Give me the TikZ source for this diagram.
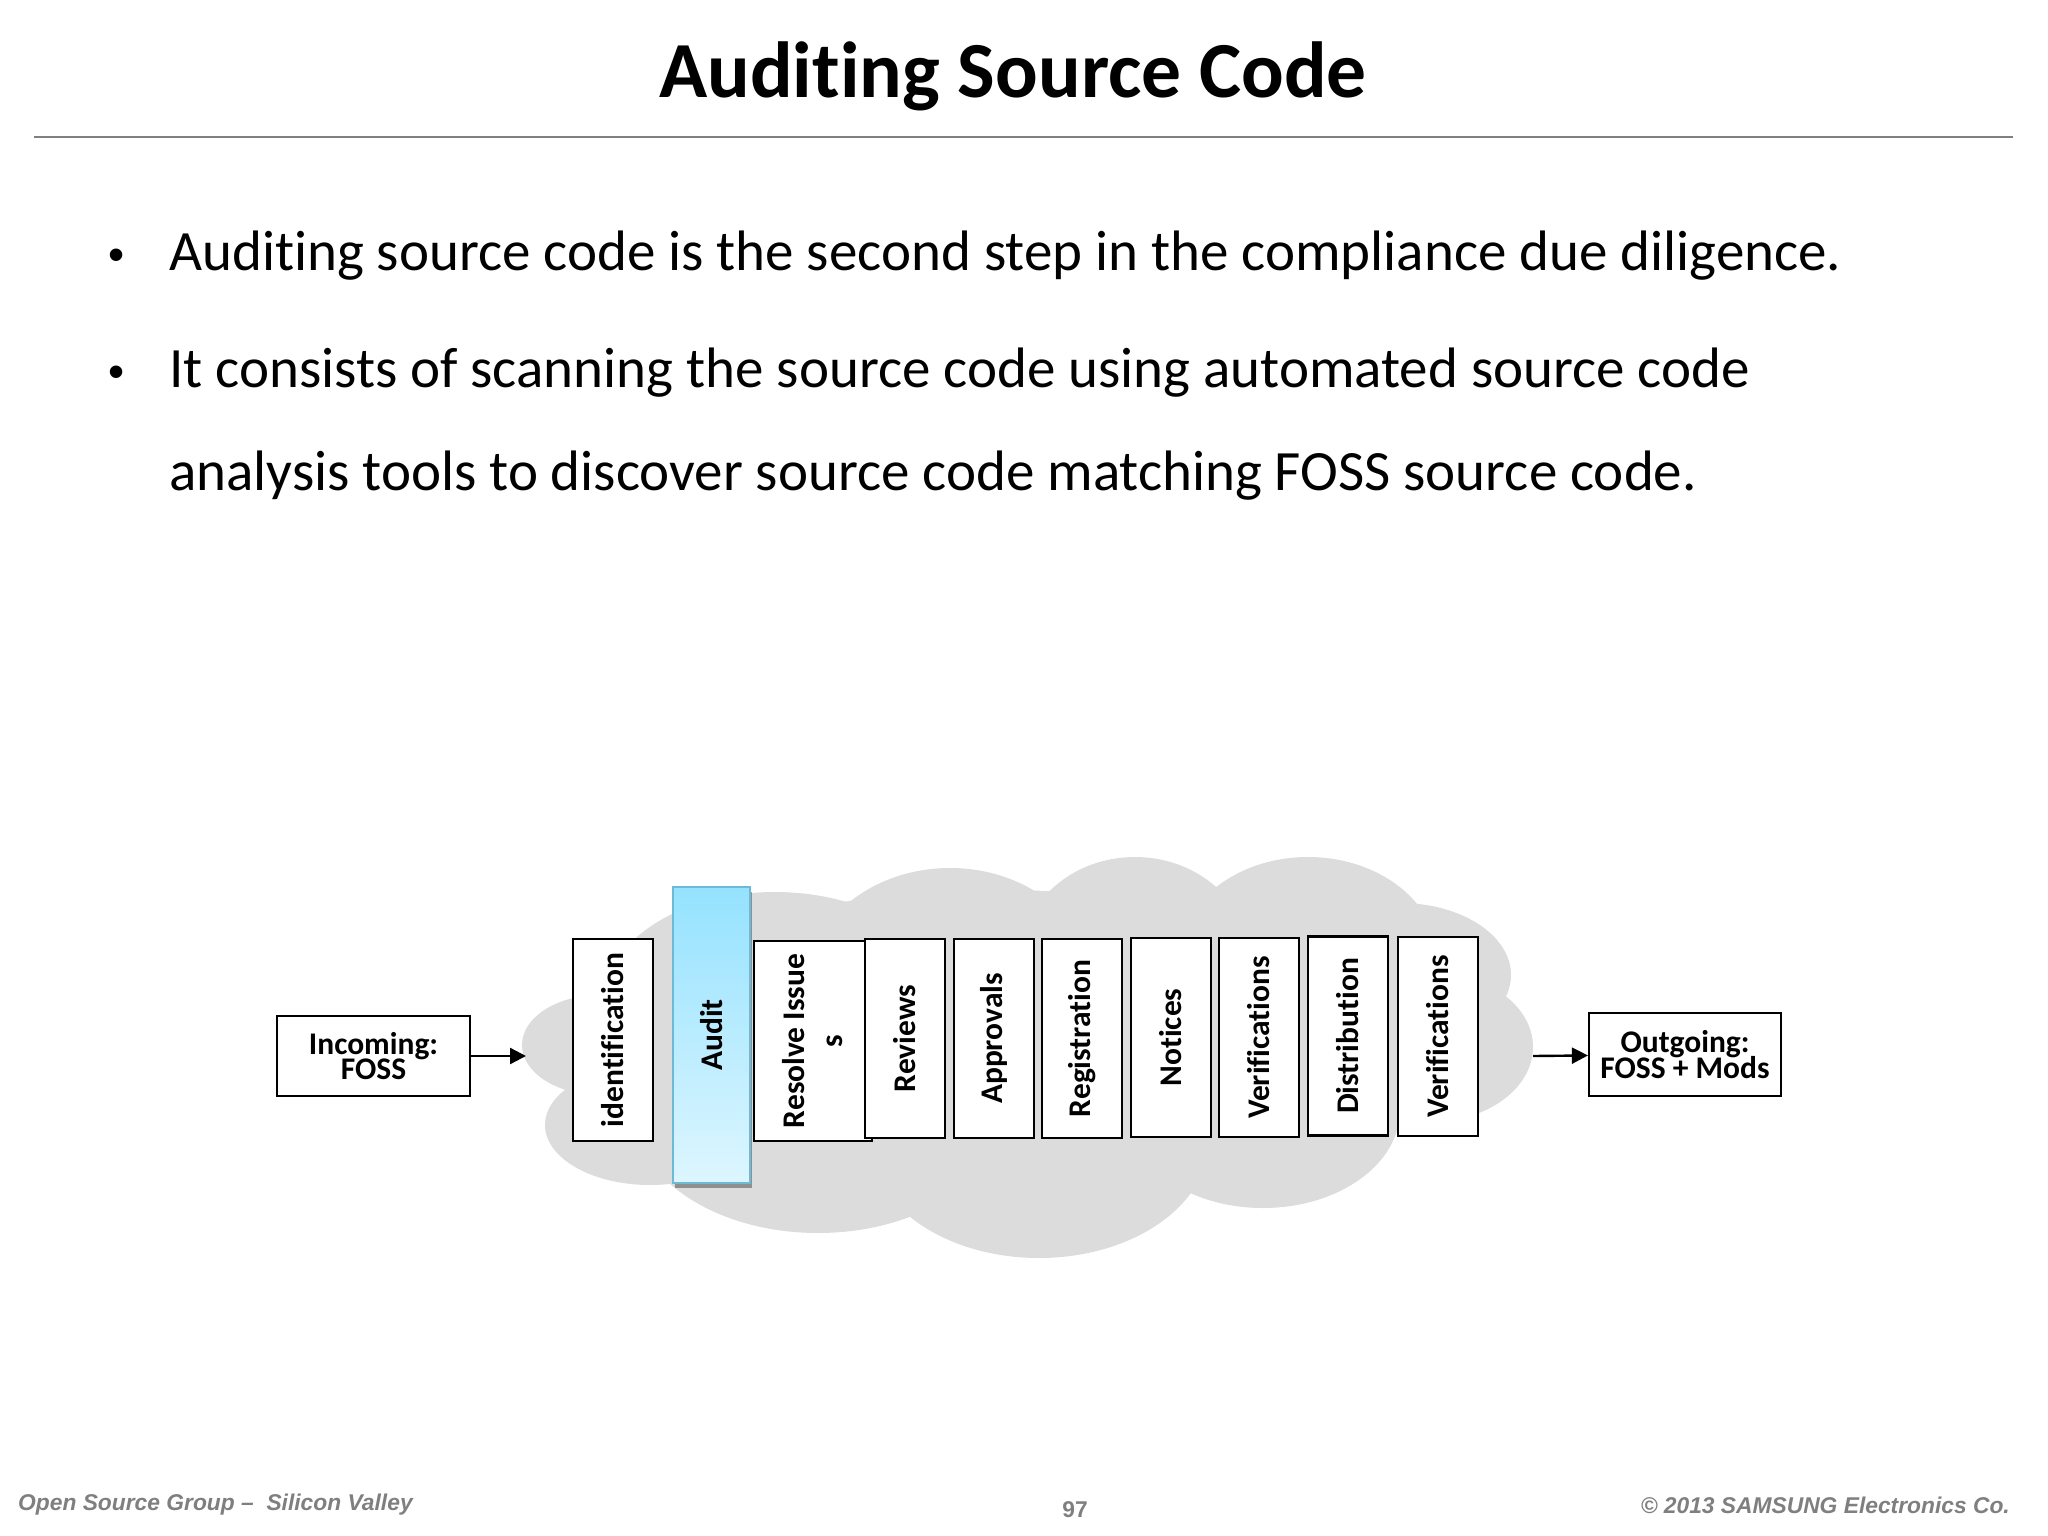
\documentclass[tikz,border=0pt]{standalone}
\usepackage{fontspec}
\setmainfont[Ligatures=NoCommon]{Carlito}
\newfontfamily\footfont{Liberation Sans}
\usetikzlibrary{arrows.meta,shadows}
\definecolor{cloudgray}{HTML}{DCDCDC}
\definecolor{rulegray}{HTML}{808080}
\definecolor{footgray}{HTML}{7F7F7F}
\definecolor{audittop}{HTML}{95E2FF}
\definecolor{auditbot}{HTML}{DDF6FF}
\definecolor{auditedge}{HTML}{6DB9D8}
\begin{document}
\begin{tikzpicture}[
  x=1pt, y=-1pt,
  every node/.style={inner sep=0pt},
  stagebox/.style={draw, line width=2.2pt, fill=white, rotate=90, minimum width=199pt, minimum height=80pt,
    align=center, font=\fontsize{31.5}{38}\selectfont\bfseries},
  flowbox/.style={draw, line width=2.2pt, fill=white, align=center, font=\fontsize{31.5}{25}\selectfont\bfseries},
  bodytext/.style={anchor=base west, font=\fontsize{57}{60}\selectfont},
  dottext/.style={anchor=base west, font=\fontsize{46}{48}\footfont},
  foottext/.style={text=footgray, font=\fontsize{22.8}{26}\footfont\bfseries\itshape},
  -, >={Triangle[length=16pt,width=16pt]}
]
\useasboundingbox (0,0) rectangle (2048,1536);

% title and text
\node[anchor=base, font=\fontsize{79.5}{86}\selectfont\bfseries] (title) at (1013,98) {Auditing Source Code};
\coordinate (ruleleft) at (34,137);
\coordinate (ruleright) at (2013,137);
\draw[rulegray, line width=2.2pt] (ruleleft) -- (ruleright);

\node[dottext] (dot1) at (108,270) {•};
\node[bodytext] (line1) at (169,270) {Auditing source code is the second step in the compliance due diligence.};
\node[dottext] (dot2) at (108,387) {•};
\node[bodytext] (line2) at (169,387) {It consists of scanning the source code using automated source code};
\node[bodytext] (line3) at (169,490) {analysis tools to discover source code matching FOSS source code.};

% cloud
\foreach \cx/\cy/\rx/\ry in {1000/1040/400/150, 600/1045/78/50, 650/1125/105/60, 775/1000/170/108,
    950/990/145/122, 1135/960/115/103, 1308/960/130/103, 1400/975/111/72, 1430/1047/103/75,
    1263/1110/137/98, 1039/1140/170/118, 818/1110/185/123}
  \fill[cloudgray] (\cx,\cy) ellipse [x radius=\rx pt, y radius=\ry pt];
\coordinate (cloudin) at (526,1056);
\coordinate (cloudout) at (1533,1056);

% flow
\node[flowbox, minimum width=193pt, minimum height=80pt] (incoming) at (373.5,1056) {Incoming:\\[-2pt]FOSS};
\node[flowbox, minimum width=192pt, minimum height=83pt] (outgoing) at (1685,1054.5) {Outgoing:\\[-2pt]FOSS + Mods};
\draw[->, line width=2.4pt] (incoming) -- (cloudin);
\draw[->, line width=2.4pt] (cloudout) -- (outgoing);

% stages
\node[stagebox, minimum width=202pt] (ident) at (613,1040) {identification};
\node[stagebox, minimum width=296pt, minimum height=77pt, draw=auditedge, top color=audittop, bottom color=auditbot,
  drop shadow={shadow xshift=1.5pt, shadow yshift=-5pt, fill=black, opacity=.35}] (audit) at (711.5,1035) {Audit};
\node[stagebox, minimum width=200pt, minimum height=118pt] (resolve) at (813,1041) {Resolve Issue\\s};
\node[stagebox] (reviews) at (905,1038.5) {Reviews};
\node[stagebox] (approvals) at (994,1038.5) {Approvals};
\node[stagebox] (registration) at (1082,1038.5) {Registration};
\node[stagebox] (notices) at (1171,1037.5) {Notices};
\node[stagebox] (verify1) at (1259,1037.5) {Verifications};
\node[stagebox] (distribution) at (1348,1036) {Distribution};
\node[stagebox] (verify2) at (1438,1036.5) {Verifications};

% footer
\node[foottext, anchor=base west] (group) at (18,1510) {Open Source Group –\ \ Silicon Valley};
\node[foottext, anchor=base, font=\fontsize{22.8}{26}\footfont\bfseries] (pagenum) at (1075,1517) {97};
\node[foottext, anchor=base east] (copyright) at (2010,1513) {© 2013 SAMSUNG Electronics Co.};
\end{tikzpicture}
\end{document}
